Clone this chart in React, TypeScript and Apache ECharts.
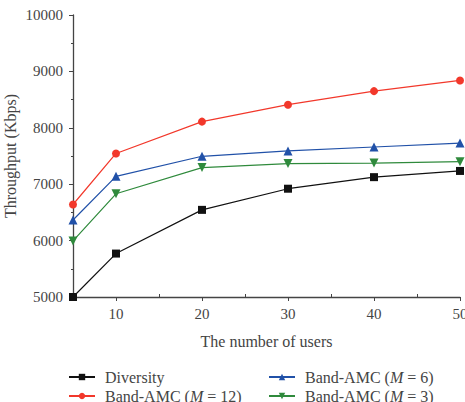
import React, { useEffect, useRef } from "react";
import * as echarts from "echarts";

const users = [5, 10, 20, 30, 40, 50];
const diversity = [5000, 5770, 6545, 6920, 7125, 7235];
const bandAmc12 = [6640, 7545, 8110, 8410, 8650, 8840];
const bandAmc6 = [6365, 7140, 7495, 7590, 7660, 7730];
const bandAmc3 = [5995, 6830, 7295, 7365, 7375, 7400];

const xLabels = [10, 20, 30, 40, 50];
const xMinorTicks = [15, 25, 35, 45];

const FONT = "'Liberation Serif', 'DejaVu Serif', serif";
const TEXT = "#444";

const pairs = (ys: number[]) => users.map((u, i) => [u, ys[i]]);

const seriesDefs = [
  { name: "Diversity", data: diversity, color: "#111111", symbol: "rect", size: 8 },
  { name: "Band-AMC (M = 12)", data: bandAmc12, color: "#f2382b", symbol: "circle", size: 8 },
  { name: "Band-AMC (M = 6)", data: bandAmc6, color: "#2151a8", symbol: "triangle", size: 9 },
  { name: "Band-AMC (M = 3)", data: bandAmc3, color: "#2f8a3c", symbol: "path://M0,0 L10,0 L5,9 Z", size: 9 },
];

// legend slots: two columns, two rows
const legendSlots = [
  { left: 68, top: 369 },
  { left: 68, top: 388 },
  { left: 268, top: 369 },
  { left: 268, top: 388 },
];

const legendText = {
  fontFamily: FONT,
  fontSize: 16,
  color: TEXT,
  padding: [0, 0, 0, 5],
  rich: {
    n: { fontFamily: FONT, fontSize: 16, color: TEXT },
    i: { fontFamily: FONT, fontSize: 16, fontStyle: "italic", color: TEXT },
  },
};
const legendFormatter = (name: string) => {
  const k = name.indexOf("(M");
  if (k < 0) return `{n|${name}}`;
  return `{n|${name.slice(0, k + 1)}}{i|M}{n|${name.slice(k + 2)}}`;
};

export default function App() {
  const ref = useRef<HTMLDivElement>(null);
  useEffect(() => {
    const chart = echarts.init(ref.current!, null, { renderer: "svg" });
    chart.setOption({
      animation: false,
      backgroundColor: "#fff",
      grid: { left: 73, top: 15, right: 5, bottom: 105, containLabel: false, outerBoundsMode: "none" },
      xAxis: [
        {
          type: "value",
          min: 5,
          max: 50,
          name: "The number of users",
          nameLocation: "middle",
          nameGap: 36,
          nameMoveOverlap: false,
          nameTextStyle: { fontFamily: FONT, fontSize: 16, color: TEXT },
          axisLine: { lineStyle: { color: "#444", width: 1.3 } },
          axisTick: { customValues: xLabels, length: 4, lineStyle: { color: "#444" } },
          axisLabel: { customValues: xLabels, margin: 9, fontFamily: FONT, fontSize: 15, color: TEXT },
          splitLine: { show: false },
        },
        {
          type: "value",
          min: 5,
          max: 50,
          position: "bottom",
          axisLine: { show: false },
          axisTick: { customValues: xMinorTicks, inside: true, length: 3, lineStyle: { color: "#444" } },
          axisLabel: { show: false },
          splitLine: { show: false },
        },
      ],
      yAxis: {
        type: "value",
        min: 5000,
        max: 10000,
        interval: 1000,
        name: "Throughput (Kbps)",
        nameLocation: "middle",
        nameGap: 55,
        nameMoveOverlap: false,
        nameTextStyle: { fontFamily: FONT, fontSize: 16, color: TEXT },
        axisLine: { show: true, lineStyle: { color: "#444", width: 1.3 } },
        axisTick: { show: true, length: 4, lineStyle: { color: "#444" } },
        minorTick: { show: true, splitNumber: 2, length: 2, lineStyle: { color: "#444" } },
        axisLabel: {
          margin: 10,
          fontFamily: FONT,
          fontSize: 15,
          color: TEXT,
          formatter: (v: number) => String(v),
        },
        splitLine: { show: false },
      },
      legend: seriesDefs.map((s, i) => ({
        orient: "horizontal",
        left: legendSlots[i].left,
        top: legendSlots[i].top,
        itemWidth: 26,
        itemHeight: 8,
        padding: 0,
        data: [s.name],
        textStyle: legendText,
        formatter: legendFormatter,
      })),
      series: seriesDefs.map((s) => ({
        name: s.name,
        type: "line",
        xAxisIndex: 0,
        data: pairs(s.data),
        symbol: s.symbol,
        symbolSize: s.size,
        showSymbol: true,
        lineStyle: { color: s.color, width: 1.2 },
        itemStyle: { color: s.color },
        z: 3,
      })),
    });
    return () => chart.dispose();
  }, []);
  return <div ref={ref} style={{ width: 465, height: 402, position: "absolute", left: 0, top: 0 }} />;
}
